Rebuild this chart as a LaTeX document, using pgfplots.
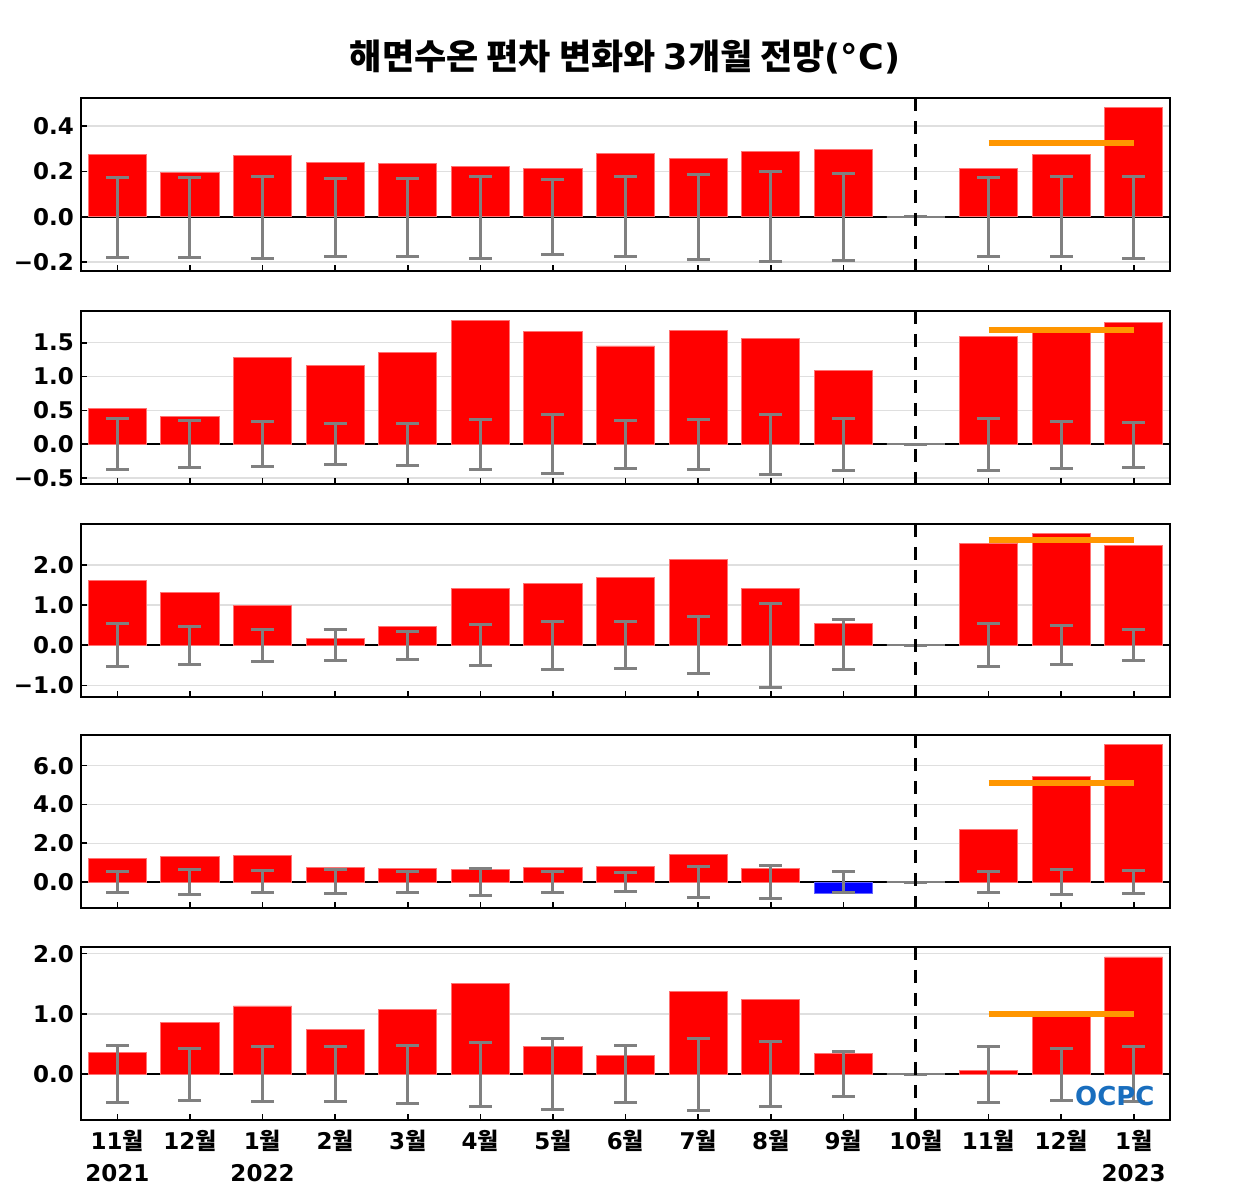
\documentclass[border=0pt]{standalone}
\usepackage{fontspec}
\setmainfont{DejaVu Sans}
\newfontfamily\kr{Noto Sans CJK KR}
\usepackage{pgfplots}
\usepackage{pgfplotstable}
\pgfplotsset{compat=1.18}
\definecolor{ocpc}{RGB}{25,110,190}
\definecolor{fcst}{RGB}{255,150,0}
\newcommand\W{{\kr 월}}

% x: month index, v: anomaly (nan = not a red bar), ep/em: error range around zero
\pgfplotstableread{
x v ep em
0 0.274 0.172 0.179
1 0.196 0.172 0.180
2 0.271 0.176 0.184
3 0.239 0.169 0.175
4 0.236 0.170 0.175
5 0.221 0.176 0.183
6 0.212 0.164 0.169
7 0.280 0.176 0.178
8 0.256 0.185 0.188
9 0.289 0.199 0.200
10 0.296 0.190 0.194
11 nan 0 0
12 0.213 0.175 0.178
13 0.274 0.179 0.178
14 0.481 0.178 0.184
}\globe
\pgfplotstableread{
x v ep em
0 0.528 0.380 0.379
1 0.414 0.346 0.350
2 1.287 0.331 0.335
3 1.169 0.300 0.305
4 1.352 0.305 0.310
5 1.834 0.365 0.370
6 1.672 0.434 0.438
7 1.452 0.355 0.365
8 1.686 0.364 0.380
9 1.558 0.438 0.450
10 1.095 0.374 0.390
11 nan 0 0
12 1.592 0.374 0.385
13 1.670 0.340 0.355
14 1.800 0.325 0.340
}\eastasia
\pgfplotstableread{
x v ep em
0 1.617 0.532 0.537
1 1.318 0.473 0.480
2 0.995 0.390 0.405
3 0.167 0.390 0.390
4 0.465 0.348 0.356
5 1.403 0.507 0.512
6 1.542 0.590 0.605
7 1.695 0.597 0.590
8 2.140 0.720 0.713
9 1.410 1.045 1.045
10 0.540 0.630 0.614
11 nan 0 0
12 2.530 0.540 0.530
13 2.780 0.480 0.473
14 2.480 0.398 0.390
}\eastsea
\pgfplotstableread{
x v ep em
0 1.22 0.566 0.545
1 1.32 0.650 0.670
2 1.36 0.580 0.566
3 0.77 0.630 0.617
4 0.72 0.566 0.566
5 0.67 0.700 0.685
6 0.77 0.566 0.545
7 0.82 0.500 0.490
8 1.42 0.810 0.790
9 0.69 0.860 0.855
10 nan 0.566 0.545
11 nan 0 0
12 2.72 0.566 0.545
13 5.43 0.670 0.650
14 7.08 0.580 0.580
}\yellowsea
\pgfplotstableread{
x v ep em
0 0.360 0.470 0.470
1 0.857 0.426 0.436
2 1.133 0.453 0.453
3 0.750 0.464 0.458
4 1.073 0.475 0.480
5 1.504 0.525 0.530
6 0.464 0.585 0.590
7 0.310 0.475 0.470
8 1.370 0.597 0.600
9 1.233 0.542 0.542
10 0.343 0.370 0.365
11 nan 0 0
12 0.066 0.464 0.464
13 0.970 0.426 0.430
14 1.945 0.453 0.453
}\ecsea

\pgfplotsset{
  panel/.style={
    scale only axis, width=544.5pt, height=86.5pt, anchor=south west,
    xmin=-0.5, xmax=14.5, xtick={0,...,14}, xticklabels={},
    xtick pos=bottom, ytick pos=left, tick align=inside,
    major tick length=3pt,
    every tick/.style={black, line width=0.8pt},
    axis line style={line width=1pt},
    ymajorgrids, grid style={gray!25, line width=0.6pt},
    yticklabel style={font=\fontsize{11.5}{13}\selectfont\bfseries},
    unbounded coords=discard,
  },
  sstbar/.style={ybar, bar width=0.8, bar shift=0pt, fill=red, draw=red!55!white, line width=0.4pt},
  errs/.style={draw=none, mark=none, error bars/.cd, y dir=both, y explicit,
    error bar style={draw=gray, line width=1.5pt},
    error mark options={rotate=90, draw=gray, line width=1.5pt, mark size=5.75pt}},
}

% #1 table, #2 3-month outlook, #3 region name, #4 extra bars
\newcommand\panelbody[4]{%
  \draw[black, line width=1pt] ({rel axis cs:0,0} |- {axis cs:0,0}) -- ({rel axis cs:1,0} |- {axis cs:0,0});
  \addplot[sstbar] table[x=x, y=v] {#1};
  #4
  \addplot[sstbar, fill=none, draw=gray, line width=1pt] coordinates {(11,0)};
  \addplot[errs] table[x=x, y expr=0, y error plus=ep, y error minus=em] {#1};
  \addplot[fcst, line width=3pt] coordinates {(12,#2) (14,#2)};
  \draw[black, line width=1.5pt, dash pattern=on 6.5pt off 5pt]
    ({axis cs:11,0} |- {rel axis cs:0,1}) -- ({axis cs:11,0} |- {rel axis cs:0,0});
  \node[anchor=south east, inner sep=0pt, xshift=-2pt, yshift=2.5pt,
    font=\kr\fontsize{11.5}{13}\selectfont\bfseries] at (rel axis cs:1,1) {#3};
}

\begin{document}
\begin{tikzpicture}
\path[use as bounding box] (0,0) rectangle (625pt,600pt);

\begin{axis}[panel, at={(40.5pt,464.5pt)}, ymin=-0.24, ymax=0.524,
  ytick={-0.2,0,0.2,0.4}, yticklabels={−0.2,0.0,0.2,0.4}]
\panelbody{\globe}{0.324}{전지구}{}
\end{axis}

\begin{axis}[panel, at={(40.5pt,358pt)}, ymin=-0.59, ymax=1.97,
  ytick={-0.5,0,0.5,1,1.5}, yticklabels={−0.5,0.0,0.5,1.0,1.5}]
\panelbody{\eastasia}{1.686}{동아시아해역}{}
\end{axis}

\begin{axis}[panel, at={(40.5pt,251.5pt)}, ymin=-1.29, ymax=3.02,
  ytick={-1,0,1,2}, yticklabels={−1.0,0.0,1.0,2.0}]
\panelbody{\eastsea}{2.61}{동해}{}
\end{axis}

\begin{axis}[panel, at={(40.5pt,146pt)}, ymin=-1.34, ymax=7.58,
  ytick={0,2,4,6}, yticklabels={0.0,2.0,4.0,6.0}]
\panelbody{\yellowsea}{5.09}{황해}{\addplot[sstbar, fill=blue, draw=blue!60!white] coordinates {(10,-0.58)};}
\end{axis}

\begin{axis}[panel, at={(40.5pt,40pt)}, ymin=-0.758, ymax=2.11,
  ytick={0,1,2}, yticklabels={0.0,1.0,2.0},
  xticklabels={{11\W\\2021},12\W,{1\W\\2022},2\W,3\W,4\W,5\W,6\W,7\W,8\W,9\W,10\W,11\W,12\W,{1\W\\2023}},
  xticklabel style={font=\fontsize{11.5}{16}\selectfont\bfseries, align=center, yshift=-1.5pt}]
\panelbody{\ecsea}{0.995}{동중국해}{}
\node[font=\fontsize{13}{13}\selectfont\bfseries, text=ocpc] at (axis cs:13.74,-0.365) {OCPC};
\end{axis}

\node[font=\fontsize{17.5}{20}\selectfont\bfseries] at (312.5pt,571.5pt)
  {{\kr 해면수온 편차 변화와 }3{\kr 개월 전망}(°C)};
\end{tikzpicture}
\end{document}
